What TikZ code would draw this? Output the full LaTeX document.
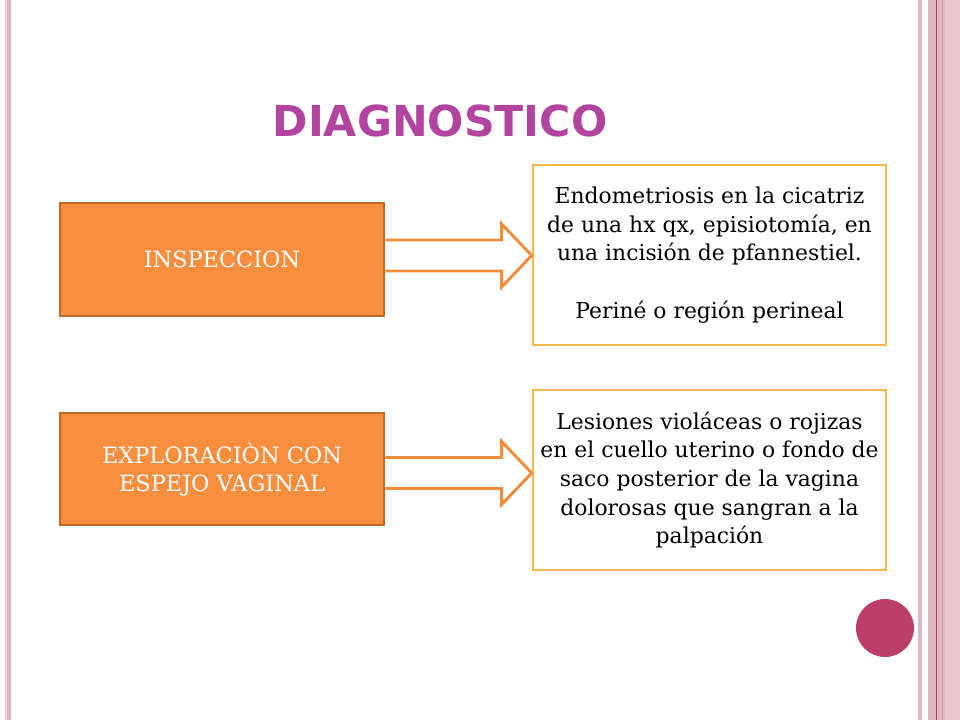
\documentclass[tikz,border=0pt]{standalone}
\usepackage{fontspec}
\newfontfamily\titlefont{DejaVu Sans}
\setmainfont{DejaVu Serif}
\usetikzlibrary{calc}
\definecolor{stripe}{RGB}{221,184,192}
\definecolor{stripel}{RGB}{236,210,216}
\definecolor{stripedark}{RGB}{185,60,95}
\definecolor{ofill}{RGB}{249,142,62}
\definecolor{oborder}{RGB}{190,105,45}
\definecolor{ybord}{RGB}{246,184,78}
\definecolor{arrcol}{RGB}{242,140,60}
\definecolor{titlecol}{RGB}{178,68,160}
\definecolor{dotcol}{RGB}{186,62,104}
\tikzset{
  obox/.style={draw=oborder, line width=2pt, fill=ofill, minimum width=243pt, text=white, align=center, font=\fontsize{16.8}{21}\selectfont},
  wbox/.style={draw=ybord, line width=2pt, fill=white, minimum width=264.75pt, minimum height=135pt, align=center, font=\fontsize{16.4}{21.5}\selectfont},
  blockarr/.style={draw=arrcol, line width=2.2pt, fill=white, line join=miter}
}
\begin{document}
\begin{tikzpicture}[x=0.75pt,y=-0.75pt]
\useasboundingbox (0,0) rectangle (960,720);
\fill[white] (0,0) rectangle (960,720);
% stripes
\fill[stripe] (5,0) rectangle (11,720);
\fill[stripel] (5,0) rectangle (6.5,720);
\fill[stripe] (918,0) rectangle (922,720);
\fill[stripe] (928,0) rectangle (960,720);
\fill[stripel!60!stripe] (945,0) rectangle (960,720);
\fill[stripedark] (935.6,0) rectangle (936.6,720);
\fill[stripe!80!stripedark] (942,0) rectangle (943,720);
% title
\node[text=titlecol, font=\titlefont\bfseries\fontsize{32}{36}\selectfont, anchor=center] (title) at (440,121) {DIAGNOSTICO};
% left boxes
\node[obox, minimum height=84.75pt] (insp) at (222,259.5) {INSPECCION};
\node[obox, minimum height=84pt] (explo) at (222,469) {EXPLORACIÒN CON\\ESPEJO VAGINAL};
% right boxes
\node[wbox] (endo) at (709.5,255) {Endometriosis en la cicatriz\\de una hx qx, episiotomía, en\\una incisión de pfannestiel.\\[21.5pt]Periné o región perineal};
\node[wbox] (lesion) at (709.5,480) {Lesiones violáceas o rojizas\\en el cuello uterino o fondo de\\saco posterior de la vagina\\dolorosas que sangran a la\\palpación};
% arrows
\coordinate (t1) at ($(endo.west)+(0,0.5)$);
\draw[blockarr] ($(insp.east |- t1)+(0,-15.5)$) -- ($(t1)+(-30,-15.5)$) -- ($(t1)+(-30,-31.5)$) -- (t1) -- ($(t1)+(-30,31.5)$) -- ($(t1)+(-30,15.5)$) -- ($(insp.east |- t1)+(0,15.5)$);
\coordinate (t2) at ($(lesion.west)+(0,-7)$);
\draw[blockarr] ($(explo.east |- t2)+(0,-15.5)$) -- ($(t2)+(-30,-15.5)$) -- ($(t2)+(-30,-31.5)$) -- (t2) -- ($(t2)+(-30,31.5)$) -- ($(t2)+(-30,15.5)$) -- ($(explo.east |- t2)+(0,15.5)$);
% dot
\fill[dotcol] (885,628) circle[radius=29];
\end{tikzpicture}
\end{document}
